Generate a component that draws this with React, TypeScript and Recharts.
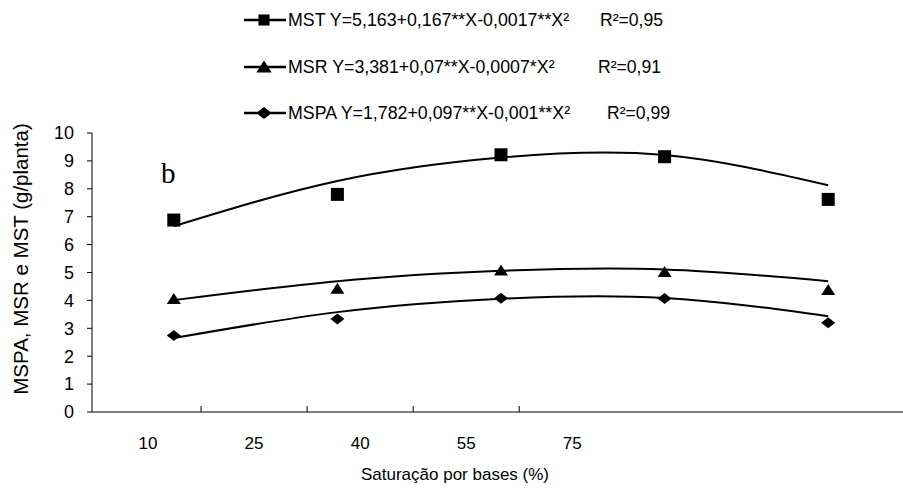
import React from 'react';
import { ComposedChart, Line, XAxis, YAxis } from 'recharts';

// Base saturation levels (%)
const categories = ['10', '25', '40', '55', '75'];

// Observed dry matter (g/planta)
const mstObs = [6.88, 7.8, 9.22, 9.15, 7.62];
const msrObs = [4.05, 4.42, 5.07, 5.02, 4.37];
const mspaObs = [2.74, 3.33, 4.08, 4.07, 3.2];

// Fitted quadratic curves at each level
const mstFit = [6.66, 8.28, 9.12, 9.21, 8.13];
const msrFit = [4.01, 4.69, 5.06, 5.11, 4.69];
const mspaFit = [2.65, 3.58, 4.06, 4.09, 3.43];

const yTicks = [0, 1, 2, 3, 4, 5, 6, 7, 8, 9, 10];

// Label axis: labels sit on whole numbers, tick marks on the halves.
const labelDomain: [number, number] = [-0.528, 7.184];
const labelTicks = [0, 0.5, 1, 1.5, 2, 2.5, 3, 3.5, 4];

const legendRows = [
  { shape: 'square', eq: 'MST Y=5,163+0,167**X-0,0017**X²', r2: 'R²=0,95' },
  { shape: 'triangle', eq: 'MSR Y=3,381+0,07**X-0,0007*X²', r2: 'R²=0,91' },
  { shape: 'diamond', eq: 'MSPA Y=1,782+0,097**X-0,001**X²', r2: 'R²=0,99' },
];

const data = categories.map((c, i) => ({
  idx: i,
  cat: c,
  mst: mstObs[i],
  msr: msrObs[i],
  mspa: mspaObs[i],
  mstFit: mstFit[i],
  msrFit: msrFit[i],
  mspaFit: mspaFit[i],
}));

const FONT = '"Liberation Sans", Arial, sans-serif';

function Marker({ shape, cx, cy, s = 1 }: { shape: string; cx: number; cy: number; s?: number }) {
  if (shape === 'square') {
    const h = 6.5 * s;
    return <rect x={cx - h} y={cy - h} width={2 * h} height={2 * h} fill="#000" />;
  }
  if (shape === 'triangle') {
    return (
      <polygon
        points={`${cx},${cy - 6 * s} ${cx - 7 * s},${cy + 5 * s} ${cx + 7 * s},${cy + 5 * s}`}
        fill="#000"
      />
    );
  }
  return (
    <polygon
      points={`${cx},${cy - 5.5 * s} ${cx + 7 * s},${cy} ${cx},${cy + 5.5 * s} ${cx - 7 * s},${cy}`}
      fill="#000"
    />
  );
}

const dotFor = (shape: string) => (props: any) => {
  const { cx, cy, index } = props;
  if (cx == null || cy == null) return <g key={`${shape}-${index}`} />;
  return <Marker key={`${shape}-${index}`} shape={shape} cx={cx} cy={cy} />;
};

const CategoryTick = (props: any) => {
  const { x, y, payload } = props;
  const v = payload.value as number;
  if (v < 0 || v > 4) return <g />;
  if (Number.isInteger(v)) {
    return (
      <text x={x} y={y + 37} textAnchor="middle" fontFamily={FONT} fontSize={17} fill="#000">
        {categories[v]}
      </text>
    );
  }
  return <line x1={x} x2={x} y1={y} y2={y - 6} stroke="#000" strokeWidth={1} />;
};

const XTitle = () => (
  <text x={455} y={480} textAnchor="middle" fontFamily={FONT} fontSize={17} fill="#000">
    Saturação por bases (%)
  </text>
);

const YTitle = () => (
  <text
    x={0}
    y={0}
    transform="translate(28, 259) rotate(-90)"
    textAnchor="middle"
    fontFamily={FONT}
    fontSize={20.5}
    fill="#000"
  >
    MSPA, MSR e MST (g/planta)
  </text>
);

function LegendBlock() {
  const rowY = [20, 67, 113];
  return (
    <svg
      width={903}
      height={488}
      style={{ position: 'absolute', left: 0, top: 0, pointerEvents: 'none' }}
    >
      {legendRows.map((r, i) => (
        <g key={r.shape}>
          <line x1={244} x2={286} y1={rowY[i]} y2={rowY[i]} stroke="#000" strokeWidth={2.5} />
          <Marker shape={r.shape} cx={264} cy={rowY[i]} s={r.shape === 'square' ? 0.85 : 1.1} />
          <text x={288} y={rowY[i] + 6} fontFamily={FONT} fontSize={17.8} fill="#000">
            {r.eq}
          </text>
          <text x={[600, 598, 607][i]} y={rowY[i] + 6} fontFamily={FONT} fontSize={17.6} fill="#000">
            {r.r2}
          </text>
        </g>
      ))}
      <text x={161} y={183} fontFamily='"Liberation Serif", "Times New Roman", serif' fontSize={29} fill="#000">
        b
      </text>
    </svg>
  );
}

export default function App() {
  return (
    <div
      style={{
        position: 'absolute',
        left: 0,
        top: 0,
        width: 903,
        height: 488,
        overflow: 'hidden',
        background: '#fff',
      }}
    >
      <ComposedChart
        width={920}
        height={488}
        data={data}
        margin={{ top: 133, right: 10, bottom: 36, left: 0 }}
      >
        <XAxis xAxisId="d" type="number" dataKey="idx" domain={[-0.5, 4.5]} height={0} hide />
        <XAxis
          xAxisId="lbl"
          type="number"
          dataKey="idx"
          domain={labelDomain}
          ticks={labelTicks}
          allowDataOverflow
          interval={0}
          height={40}
          tickSize={0}
          tickMargin={0}
          tickLine={false}
          axisLine={{ stroke: '#000', strokeWidth: 1 }}
          tick={<CategoryTick />}
          label={<XTitle />}
        />
        <YAxis
          type="number"
          domain={[0, 10]}
          ticks={yTicks}
          interval={0}
          width={92}
          tickSize={5}
          tickMargin={13}
          axisLine={{ stroke: '#000', strokeWidth: 1 }}
          tickLine={{ stroke: '#000', strokeWidth: 1 }}
          tick={{ fontFamily: FONT, fontSize: 18, fill: '#000' }}
          label={<YTitle />}
        />
        {/* invisible series that binds the label axis so its own domain is used */}
        <Line xAxisId="lbl" dataKey="mstFit" stroke="none" dot={false} activeDot={false} legendType="none" isAnimationActive={false} />
        <Line xAxisId="d" type="natural" dataKey="mstFit" stroke="#000" strokeWidth={2} dot={false} isAnimationActive={false} />
        <Line xAxisId="d" type="natural" dataKey="msrFit" stroke="#000" strokeWidth={2} dot={false} isAnimationActive={false} />
        <Line xAxisId="d" type="natural" dataKey="mspaFit" stroke="#000" strokeWidth={2} dot={false} isAnimationActive={false} />
        <Line xAxisId="d" dataKey="mst" stroke="none" dot={dotFor('square')} activeDot={false} isAnimationActive={false} />
        <Line xAxisId="d" dataKey="msr" stroke="none" dot={dotFor('triangle')} activeDot={false} isAnimationActive={false} />
        <Line xAxisId="d" dataKey="mspa" stroke="none" dot={dotFor('diamond')} activeDot={false} isAnimationActive={false} />
      </ComposedChart>
      <LegendBlock />
    </div>
  );
}
